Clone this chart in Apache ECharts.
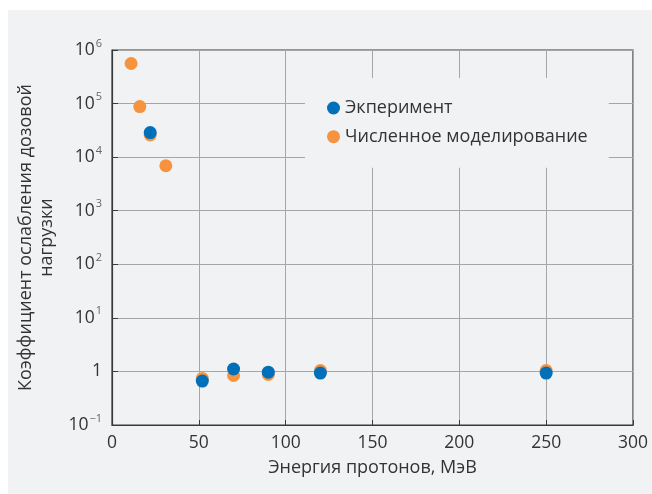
<!DOCTYPE html>
<html>
<head>
<meta charset="utf-8">
<script src="https://cdn.jsdelivr.net/npm/echarts@6/dist/echarts.min.js"></script>
<style>
html,body{margin:0;padding:0;background:#ffffff;}
#bg{position:absolute;left:8px;top:10px;width:644px;height:484px;background:#f1f2f4;}
#chart{position:absolute;left:0;top:0;width:652px;height:494px;}
</style>
</head>
<body>
<div id="bg"></div>
<div id="chart"></div>
<script>
// Data
const seriesNames = ['Экперимент', 'Численное моделирование'];
const expEnergy = [22, 52, 70, 90, 120, 250];
const expFactor = [2.87e4, 0.66, 1.11, 0.97, 0.93, 0.93];
const simEnergy = [11, 16, 22, 31, 52, 70, 90, 120, 250];
const simFactor = [5.6e5, 8.8e4, 2.6e4, 6.9e3, 0.74, 0.84, 0.88, 1.04, 1.04];
const xTicks = [0, 50, 100, 150, 200, 250, 300];
const yTickExponents = [-1, 0, 1, 2, 3, 4, 5, 6];
const xTitle = 'Энергия протонов, МэВ';
const yTitle = 'Коэффициент ослабления дозовой\nнагрузки';

const font = 'Open Sans';
const chart = echarts.init(document.getElementById('chart'), null, {renderer: 'canvas'});

function pairs(xs, ys) { return xs.map((x, i) => [x, ys[i]]); }

function yLabel(v) {
  const e = Math.round(Math.log10(v));
  if (!yTickExponents.includes(e)) return '';
  if (e === 0) return '1';
  const ex = e < 0 ? '\u2212' + Math.abs(e) : String(e);
  return '10{s|' + ex + '}';
}

chart.setOption({
  backgroundColor: 'transparent',
  animation: false,
  grid: {left: 112, right: 19, top: 50, bottom: 69, show: true, borderColor: '#3a3a3a', borderWidth: 1.2, backgroundColor: 'transparent'},
  legend: {
    data: seriesNames,
    orient: 'vertical',
    left: 305, top: 78,
    padding: [21, 21, 22, 22],
    backgroundColor: '#f1f2f4',
    itemWidth: 13, itemHeight: 13, itemGap: 10.7,
    icon: 'circle',
    textStyle: {fontFamily: font, fontSize: 18, color: '#333', lineHeight: 18}
  },
  xAxis: {
    type: 'value', min: xTicks[0], max: xTicks[xTicks.length - 1], interval: 50,
    name: xTitle, nameLocation: 'middle', nameGap: 34,
    nameTextStyle: {fontFamily: font, fontSize: 18, color: '#333'},
    axisLine: {show: true, lineStyle: {color: '#3a3a3a', width: 1.2}},
    axisTick: {show: true, inside: true, length: 5, lineStyle: {color: '#3a3a3a'}},
    axisLabel: {fontFamily: font, fontSize: 17.5, color: '#333', margin: 9},
    splitLine: {show: true, lineStyle: {color: '#a6a6a6', width: 1}}
  },
  yAxis: {
    type: 'log', logBase: 10, min: 0.1, max: 1e6,
    name: yTitle, nameLocation: 'middle', nameGap: 49,
    nameTextStyle: {fontFamily: font, fontSize: 18, color: '#333', lineHeight: 21, align: 'center'},
    axisLine: {show: true, lineStyle: {color: '#3a3a3a', width: 1.2}},
    axisTick: {show: true, inside: true, length: 6, lineStyle: {color: '#3a3a3a'}},
    axisLabel: {
      fontFamily: font, fontSize: 17.5, color: '#333', margin: 10,
      formatter: yLabel,
      rich: {s: {fontFamily: font, fontSize: 11, color: '#666', verticalAlign: 'bottom', padding: [0, 0, 13, 1]}}
    },
    splitLine: {show: true, lineStyle: {color: '#a6a6a6', width: 1}}
  },
  series: [
    {
      name: seriesNames[1], type: 'scatter', symbol: 'circle', symbolSize: 13,
      itemStyle: {color: '#f7923e', opacity: 1},
      data: pairs(simEnergy, simFactor), z: 2
    },
    {
      name: seriesNames[0], type: 'scatter', symbol: 'circle', symbolSize: 13,
      itemStyle: {color: '#0070bb', opacity: 1},
      data: pairs(expEnergy, expFactor), z: 3
    }
  ]
});
</script>
</body>
</html>
